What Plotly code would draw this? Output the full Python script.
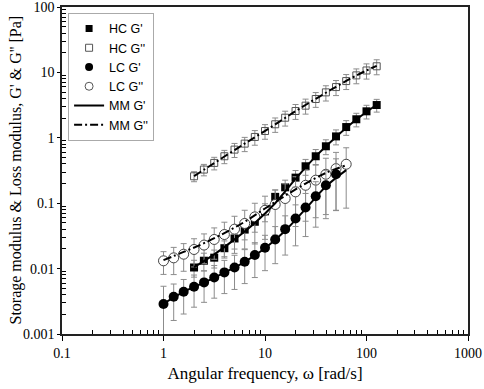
import plotly.graph_objects as go

# ---- data ----
hc_x = [2.0, 2.5, 3.16, 3.98, 5.01, 6.31, 7.94, 10.0, 12.6, 15.8, 20.0, 25.1, 31.6, 39.8, 50.1, 63.1, 79.4, 100.0, 126.0]
hc_g1 = [0.0104, 0.0132, 0.0147, 0.0205, 0.0289, 0.0395, 0.052, 0.075, 0.125, 0.175, 0.246, 0.367, 0.522, 0.742, 1.05, 1.46, 1.92, 2.54, 3.17]
hc_g1_err = [0.003, 0.004, 0.0045, 0.006, 0.009, 0.012, 0.016, 0.023, 0.035, 0.05, 0.07, 0.1, 0.14, 0.19, 0.27, 0.37, 0.45, 0.6, 0.7]
hc_g2 = [0.258, 0.327, 0.413, 0.522, 0.66, 0.815, 1.03, 1.27, 1.61, 2.03, 2.57, 3.10, 3.92, 4.95, 5.97, 7.37, 9.0, 10.7, 12.4]
hc_g2_err = [0.045, 0.065, 0.09, 0.12, 0.16, 0.2, 0.26, 0.32, 0.4, 0.52, 0.66, 0.8, 1.0, 1.3, 1.55, 1.9, 2.3, 2.8, 3.2]

lc_x1 = [1.0, 1.26, 1.58, 2.0, 2.51, 3.16, 3.98, 5.01, 6.31, 7.94, 10.0, 12.6, 15.8, 20.0, 25.1, 31.6, 39.8, 50.1]
lc_g1 = [0.00287, 0.00371, 0.00442, 0.00527, 0.00615, 0.00733, 0.00875, 0.0104, 0.0127, 0.0161, 0.0208, 0.0279, 0.0401, 0.0583, 0.0859, 0.128, 0.188, 0.277]
lc_g1_err = [0.0025, 0.0021, 0.0024, 0.0027, 0.0031, 0.0038, 0.0046, 0.0056, 0.0068, 0.0088, 0.0115, 0.016, 0.024, 0.036, 0.055, 0.085, 0.13, 0.2]
lc_x2 = [1.0, 1.26, 1.58, 2.0, 2.51, 3.16, 3.98, 5.01, 6.31, 7.94, 10.0, 12.6, 15.8, 20.0, 25.1, 31.6, 39.8, 50.1, 63.1]
lc_g2 = [0.01315, 0.0146, 0.0166, 0.0196, 0.0229, 0.0279, 0.0332, 0.0401, 0.049, 0.0618, 0.078, 0.0955, 0.118, 0.149, 0.188, 0.225, 0.277, 0.338, 0.394]
lc_g2_err = [0.005, 0.0065, 0.0075, 0.009, 0.011, 0.014, 0.018, 0.023, 0.029, 0.038, 0.05, 0.063, 0.08, 0.105, 0.135, 0.165, 0.21, 0.26, 0.31]

# MM model curves
mm_hc_x = [2.0, 3.16, 5.01, 7.94, 12.6, 20.0, 31.6, 50.1, 79.4, 126.0]
mm_hc_g1 = [0.0105, 0.0165, 0.028, 0.05, 0.1, 0.235, 0.52, 1.03, 1.9, 3.2]
mm_hc_g2 = [0.26, 0.41, 0.65, 1.02, 1.6, 2.55, 3.95, 6.0, 9.0, 12.6]
mm_lc_x = [1.0, 1.58, 2.51, 3.98, 6.31, 10.0, 15.8, 25.1, 39.8, 63.1]
mm_lc_g1 = [0.0029, 0.0044, 0.0061, 0.0087, 0.0127, 0.0205, 0.038, 0.082, 0.18, 0.32]
mm_lc_g2 = [0.0135, 0.018, 0.0245, 0.035, 0.052, 0.083, 0.13, 0.2, 0.29, 0.38]

x_ticks = [0.1, 1, 10, 100, 1000]
x_ticktext = ["0.1", "1", "10", "100", "1000"]
y_ticks = [0.001, 0.01, 0.1, 1, 10, 100]
y_ticktext = ["0.001", "0.01", "0.1", "1", "10", "100"]

ERRC = "#8c8c8c"
DASHDOT = "8px,3px,2px,3px"

HC2_MARK = dict(symbol="square-open", size=7, color="#555555", line=dict(width=1, color="#555555"))
HC1_MARK = dict(symbol="square", size=8, color="black")
LC2_MARK = dict(symbol="circle", size=10, color="white", line=dict(width=1, color="#444444"))
LC1_MARK = dict(symbol="circle", size=10, color="black")


def err(arr):
    return dict(type="data", array=arr, visible=True, color=ERRC, thickness=1, width=3)


fig = go.Figure()

# data traces (legend handled by separate key entries)
fig.add_trace(go.Scatter(x=hc_x, y=hc_g2, mode="markers", name="HC G''", showlegend=False,
                         error_y=err(hc_g2_err), marker=HC2_MARK))
fig.add_trace(go.Scatter(x=hc_x, y=hc_g1, mode="markers", name="HC G'", showlegend=False,
                         error_y=err(hc_g1_err), marker=HC1_MARK))
fig.add_trace(go.Scatter(x=lc_x2, y=lc_g2, mode="markers", name="LC G''", showlegend=False,
                         error_y=err(lc_g2_err), marker=LC2_MARK))
fig.add_trace(go.Scatter(x=lc_x1, y=lc_g1, mode="markers", name="LC G'", showlegend=False,
                         error_y=err(lc_g1_err), marker=LC1_MARK))

fig.add_trace(go.Scatter(x=mm_hc_x, y=mm_hc_g1, mode="lines", name="MM G'", showlegend=False,
                         line=dict(color="black", width=2, shape="spline")))
fig.add_trace(go.Scatter(x=mm_lc_x, y=mm_lc_g1, mode="lines", name="MM G'", showlegend=False,
                         line=dict(color="black", width=2, shape="spline")))
fig.add_trace(go.Scatter(x=mm_hc_x, y=mm_hc_g2, mode="lines", name="MM G''", showlegend=False,
                         line=dict(color="black", width=2, dash=DASHDOT, shape="spline")))
fig.add_trace(go.Scatter(x=mm_lc_x, y=mm_lc_g2, mode="lines", name="MM G''", showlegend=False,
                         line=dict(color="black", width=2, dash=DASHDOT, shape="spline")))

# legend key entries
key_marks = [("HC G'", dict(symbol="square", size=7, color="black")),
             ("HC G''", dict(symbol="square-open", size=7, color="#555555", line=dict(width=1))),
             ("LC G'", dict(symbol="circle", size=8, color="black")),
             ("LC G''", dict(symbol="circle-open", size=8, color="#555555", line=dict(width=1)))]
for nm, mk in key_marks:
    fig.add_trace(go.Scatter(x=[None], y=[None], mode="markers", name=nm, marker=mk))
fig.add_trace(go.Scatter(x=[None], y=[None], mode="lines", name="MM G'",
                         line=dict(color="black", width=2)))
fig.add_trace(go.Scatter(x=[None], y=[None], mode="lines", name="MM G''",
                         line=dict(color="black", width=2, dash=DASHDOT)))

minor_x = [m * 10 ** e for e in range(-1, 3) for m in range(2, 10)]
minor_y = [m * 10 ** e for e in range(-3, 2) for m in range(2, 10)]

axis_common = dict(type="log", showgrid=False, zeroline=False, showline=True, linecolor="#222222",
                   linewidth=1.5, mirror=True, ticks="outside", tickcolor="black",
                   automargin=False, ticklabeloverflow="allow",
                   tickfont=dict(family="Liberation Serif", size=14, color="black"))

fig.update_xaxes(**axis_common, ticklen=5, range=[-1, 3], tickmode="array", tickvals=x_ticks, ticktext=x_ticktext,
                 minor=dict(tickmode="array", tickvals=minor_x, ticks="inside", ticklen=4, tickcolor="black"),
                 title=dict(text="Angular frequency, \u03c9 [rad/s]", standoff=8,
                            font=dict(family="Liberation Serif", size=17, color="black")))
fig.update_yaxes(**axis_common, ticklen=3, range=[-3, 2], tickmode="array", tickvals=y_ticks, ticktext=y_ticktext,
                 minor=dict(tickmode="array", tickvals=minor_y, ticks="inside", ticklen=4, tickcolor="black"))

fig.update_layout(
    width=484, height=389,
    margin=dict(l=62, r=16, t=7, b=55),
    plot_bgcolor="white", paper_bgcolor="white",
    legend=dict(x=0.015, y=0.982, xanchor="left", yanchor="top", bgcolor="white",
                bordercolor="#aaaaaa", borderwidth=1,
                font=dict(family="Liberation Sans", size=12.5, color="black"),
                tracegroupgap=0, itemsizing="trace", itemwidth=30),
    showlegend=True,
    annotations=[dict(text="Storage modulus & Loss modulus, G' & G'' [Pa]", textangle=-90,
                      xref="paper", yref="paper", x=(15 - 62) / 406, y=0.5,
                      xanchor="center", yanchor="middle", showarrow=False,
                      font=dict(family="Liberation Serif", size=16, color="black"))],
)

fig.write_html("out.html", config={"displayModeBar": False},
               post_script="document.body.style.margin='0';document.body.style.overflow='hidden';")
